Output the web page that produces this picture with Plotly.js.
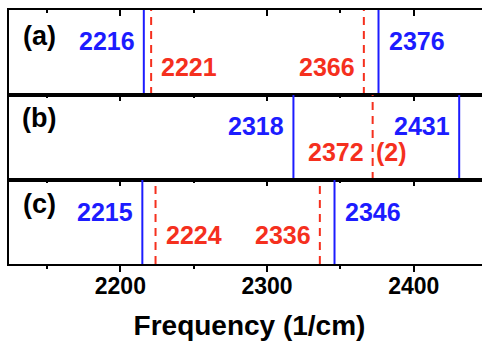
<!DOCTYPE html>
<html><head><meta charset="utf-8">
<script src="https://cdn.plot.ly/plotly-3.0.1.min.js"></script>
<style>html,body{margin:0;padding:0;overflow:hidden;background:#fff}</style>
</head><body>
<div id="chart" style="width:490px;height:341px"></div>
<script>
// Data (frequencies in 1/cm)
const panelNames = ['(a)', '(b)', '(c)'];
const blueA = [2216, 2376];
const redA  = [2221, 2366];
const blueB = [2318, 2431];
const redB  = [2372];
const blueC = [2215, 2346];
const redC  = [2224, 2336];
const tickVals = [2200, 2300, 2400];
const xTitle = 'Frequency (1/cm)';
const redBSuffix = '(2)';

// Label sides (layout only)
const sides = {
  blueA: ['left', 'right'], redA: ['right', 'left'],
  blueB: ['left', 'left'],  redB: ['left'],
  blueC: ['left', 'right'], redC: ['right', 'left']
};

const BLUE = '#1c1cff', RED = '#f5301e';
const FONT = 'Liberation Sans, Arial, sans-serif';
const xr = [2124.1, 2452];

const traces = [];
function lines(vals, color, dash, xa, ya) {
  vals.forEach(v => traces.push({
    x: [v, v], y: [0, 1], xaxis: xa, yaxis: ya, mode: 'lines', hoverinfo: 'skip',
    line: {color: color, width: 2, dash: dash}, showlegend: false
  }));
}
lines(blueA, BLUE, 'solid', 'x', 'y');
lines(redA, RED, '8px,6px', 'x', 'y');
lines(blueB, BLUE, 'solid', 'x2', 'y2');
lines(redB, RED, '8px,6px', 'x2', 'y2');
lines(blueC, BLUE, 'solid', 'x4', 'y3');
lines(redC, RED, '8px,6px', 'x3', 'y3');

const annotations = [];
const UP = 0.635, LOW = 0.325;
function labels(vals, side, color, ya, yy) {
  vals.forEach((v, i) => {
    const s = side[i];
    annotations.push({
      x: v, y: yy, xref: 'x', yref: ya, text: String(v), showarrow: false,
      xanchor: s === 'left' ? 'right' : 'left', xshift: s === 'left' ? -7 : 8,
      yanchor: 'middle',
      font: {family: FONT, size: 25, color: color, weight: 'bold'}
    });
  });
}
labels(blueA, sides.blueA, BLUE, 'y', UP);
labels(redA, sides.redA, RED, 'y', LOW);
labels(blueB, sides.blueB, BLUE, 'y2', UP);
labels(redB, sides.redB, RED, 'y2', LOW);
labels(blueC, sides.blueC, BLUE, 'y3', UP - 0.02);
labels(redC, sides.redC, RED, 'y3', LOW + 0.02);
annotations.push({
  x: redB[0], y: LOW, xref: 'x', yref: 'y2', text: redBSuffix, showarrow: false,
  xanchor: 'left', xshift: 1, yanchor: 'middle',
  font: {family: FONT, size: 25, color: RED, weight: 'bold'}
});
const panelY = [0.69, 0.73, 0.71];
panelNames.forEach((p, i) => annotations.push({
  x: 0.063, y: panelY[i], xref: 'paper', yref: ['y', 'y2', 'y3'][i], text: p,
  showarrow: false, xanchor: 'center', yanchor: 'middle',
  font: {family: FONT, size: 27, color: '#000', weight: 'bold'}
}));

function xaxisTop(anchor) {
  return {
    range: xr, side: 'top', anchor: anchor, showticklabels: false,
    tickvals: tickVals, ticks: 'inside', ticklen: 6, tickwidth: 2, tickcolor: '#000',
    minor: {dtick: 50, tick0: 2150, ticks: 'inside', ticklen: 3, tickwidth: 2, tickcolor: '#000'},
    showline: true, mirror: true, linewidth: 2, linecolor: '#000',
    showgrid: false, zeroline: false
  };
}
function yax(domain) {
  return {domain: domain, range: [0, 1], showticklabels: false, ticks: '',
    showline: true, mirror: true, linewidth: 2, linecolor: '#000',
    showgrid: false, zeroline: false, fixedrange: true};
}

const layout = {
  width: 490, height: 341,
  margin: {l: 9, r: 0, t: 10, b: 77},
  paper_bgcolor: '#fff', plot_bgcolor: '#fff',
  showlegend: false,
  xaxis: xaxisTop('y'),
  xaxis2: xaxisTop('y2'),
  xaxis3: xaxisTop('y3'),
  xaxis4: {
    range: xr, overlaying: 'x3', anchor: 'y3', side: 'bottom',
    tickvals: tickVals, ticktext: tickVals.map(String),
    ticks: 'outside', ticklen: 6, tickwidth: 2, tickcolor: '#000',
    minor: {dtick: 50, tick0: 2150, ticks: 'outside', ticklen: 3, tickwidth: 2, tickcolor: '#000'},
    tickfont: {family: FONT, size: 23, color: '#000', weight: 'bold'},
    ticklabelstandoff: -6,
    showline: true, linewidth: 2, linecolor: '#000', showgrid: false, zeroline: false,
    title: {text: xTitle, font: {family: FONT, size: 28, color: '#000', weight: 'bold'}, standoff: 18}
  },
  yaxis: yax([0.6654, 1]),
  yaxis2: yax([0.3307, 0.6654]),
  yaxis3: yax([0, 0.3307]),
  annotations: annotations
};

Plotly.newPlot('chart', traces, layout, {staticPlot: true, displayModeBar: false});
</script>
</body></html>
